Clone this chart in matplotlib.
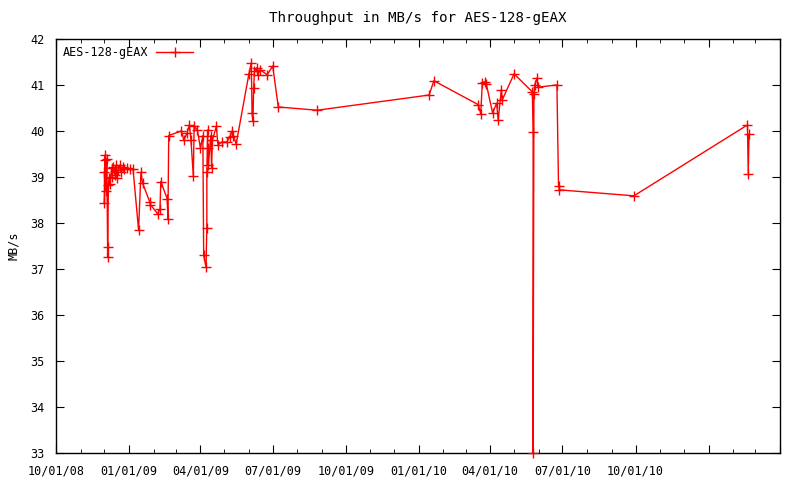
import matplotlib

matplotlib.use("Agg")

import matplotlib.dates as mdates
import matplotlib.pyplot as plt
import pandas as pd

TITLE = "Throughput in MB/s for AES-128-gEAX"
SERIES = "AES-128-gEAX"

dates = [
    "2008-12-01", "2008-12-01", "2008-12-02", "2008-12-02", "2008-12-03",
    "2008-12-04", "2008-12-05", "2008-12-05", "2008-12-06", "2008-12-07",
    "2008-12-08", "2008-12-10", "2008-12-11", "2008-12-12", "2008-12-14",
    "2008-12-15", "2008-12-17", "2008-12-18", "2008-12-20", "2008-12-22",
    "2008-12-24", "2008-12-26", "2008-12-29", "2009-01-02", "2009-01-06",
    "2009-01-13", "2009-01-16", "2009-01-18", "2009-01-27", "2009-01-28",
    "2009-02-06", "2009-02-09", "2009-02-10", "2009-02-18", "2009-02-19",
    "2009-02-20", "2009-03-08", "2009-03-11", "2009-03-15", "2009-03-18",
    "2009-03-20", "2009-03-23", "2009-03-24", "2009-03-28", "2009-04-01",
    "2009-04-04", "2009-04-05", "2009-04-08", "2009-04-09", "2009-04-09",
    "2009-04-10", "2009-04-10", "2009-04-11", "2009-04-14", "2009-04-15",
    "2009-04-16", "2009-04-21", "2009-04-23", "2009-04-28", "2009-05-04",
    "2009-05-08", "2009-05-11", "2009-05-12", "2009-05-16", "2009-06-01",
    "2009-06-04", "2009-06-05", "2009-06-06", "2009-06-07", "2009-06-08",
    "2009-06-11", "2009-06-12", "2009-06-15", "2009-06-24", "2009-07-01",
    "2009-07-08", "2009-08-26", "2010-01-14", "2010-01-20", "2010-03-17",
    "2010-03-20", "2010-03-22", "2010-03-25", "2010-03-27", "2010-04-04",
    "2010-04-09", "2010-04-11", "2010-04-15", "2010-04-16", "2010-05-01",
    "2010-05-24", "2010-05-25", "2010-05-25", "2010-05-26", "2010-05-27",
    "2010-05-30", "2010-05-31", "2010-06-24", "2010-06-26", "2010-06-27",
    "2010-09-29", "2011-02-19", "2011-02-20", "2011-02-21",
]
throughput = [
    39.10, 38.43, 39.48, 39.37, 38.70,
    39.40, 37.48, 37.26, 38.83, 38.98,
    38.85, 39.20, 39.00, 39.22, 39.05,
    39.25, 38.98, 39.15, 39.25, 39.10,
    39.22, 39.18, 39.20, 39.18, 39.18,
    37.85, 39.10, 38.87, 38.46, 38.40,
    38.20, 38.30, 38.90, 38.53, 38.08,
    39.90, 40.00, 39.80, 39.95, 40.13,
    39.80, 39.02, 40.10, 40.02, 39.63,
    39.90, 37.30, 37.04, 37.90, 39.10,
    40.02, 39.63, 39.26, 39.90, 39.20,
    39.80, 40.10, 39.70, 39.76, 39.76,
    39.87, 40.00, 39.90, 39.72, 41.24,
    41.48, 40.39, 40.22, 40.93, 41.30,
    41.37, 41.22, 41.33, 41.22, 41.41,
    40.52, 40.45, 40.78, 41.09, 40.57,
    40.37, 41.04, 41.07, 41.02, 40.39,
    40.60, 40.24, 40.90, 40.67, 41.24,
    40.85, 39.98, 33.00, 40.80, 41.00,
    41.15, 40.95, 41.00, 38.80, 38.72,
    38.59, 40.13, 39.07, 39.93,
]

x_start, x_end = "2008-10-01", "2011-04-01"
y_ticks = list(range(33, 43))
last_label = "2010-10-01"

plt.rcParams["font.family"] = ["DejaVu Sans Mono"]
plt.rcParams["font.size"] = 8.5

fig = plt.figure(figsize=(8, 4.8), dpi=100)
ax = fig.add_axes([0.07, 0.056, 0.905, 0.863])

ax.plot(
    pd.to_datetime(dates), throughput,
    color="red", lw=1, marker="+", ms=7.5, mew=1, label=SERIES,
    clip_on=False, zorder=3,
)

ax.set_xlim(pd.Timestamp(x_start), pd.Timestamp(x_end))
ax.set_ylim(y_ticks[0], y_ticks[-1])
ax.set_yticks(y_ticks)
ax.xaxis.set_major_locator(mdates.MonthLocator(bymonth=[1, 4, 7, 10]))
ax.xaxis.set_minor_locator(mdates.MonthLocator())
cutoff = mdates.date2num(pd.Timestamp(last_label))


def date_label(value, pos=None):
    if value > cutoff + 1:
        return ""
    return mdates.num2date(value).strftime("%m/%d/%y")


ax.xaxis.set_major_formatter(plt.FuncFormatter(date_label))
ax.tick_params(which="both", direction="in", top=True, right=True, colors="black")
ax.tick_params(which="major", length=6, pad=8)
ax.tick_params(which="minor", length=3)
for spine in ax.spines.values():
    spine.set_linewidth(1)

ax.set_title(TITLE, pad=12)
ax.set_ylabel("MB/s", labelpad=8)
ax.legend(
    loc="upper left", frameon=False, markerfirst=False,
    handlelength=3.2, borderaxespad=0.2, handletextpad=0.6,
)

fig.savefig("out.png", dpi=100)
